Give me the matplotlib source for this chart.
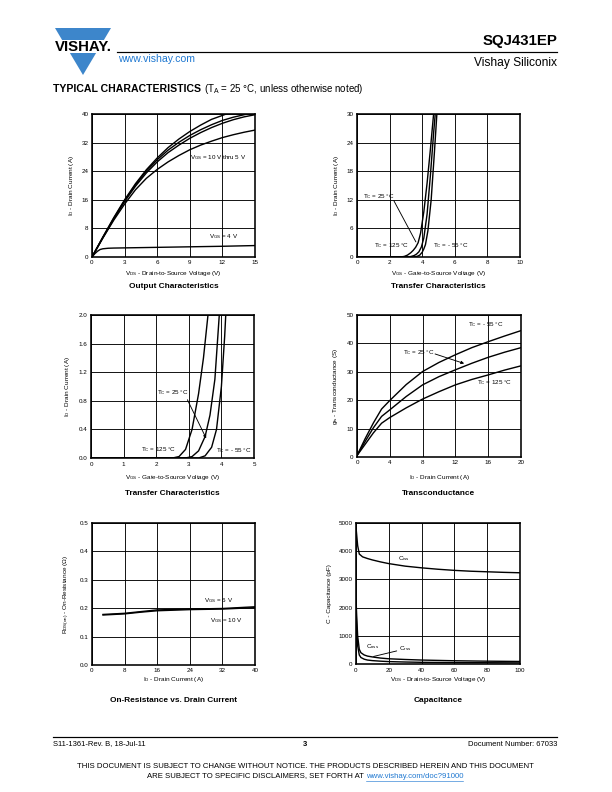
import matplotlib
matplotlib.use("Agg")
import matplotlib.pyplot as plt
from matplotlib.patches import Polygon
from matplotlib.lines import Line2D

plt.rcParams["font.family"] = ["Liberation Sans", "DejaVu Sans"]
plt.rcParams["mathtext.fontset"] = "custom"
plt.rcParams["mathtext.rm"] = "Liberation Sans"
plt.rcParams["mathtext.bf"] = "Liberation Sans:bold"

W, H = 612, 792
BLUE = "#3d86cb"
LINK = "#1f78d1"

# --- Output characteristics (VDS in V, ID in A) ---
out_vds_10 = [0, 1, 2, 3, 4, 5, 6, 7, 8, 9, 10, 11, 12, 12.8]
out_id_10 = [0, 5.6, 11.0, 16.0, 20.5, 24.4, 27.7, 30.6, 33.0, 35.1, 36.9, 38.5, 39.6, 40.5]
out_vds_8 = [0, 1, 2, 3, 4, 5, 6, 7, 8, 9, 10, 11, 12, 13, 14, 14.8]
out_id_8 = [0, 5.5, 10.8, 15.8, 20.2, 24.0, 27.2, 29.9, 32.1, 34.0, 35.6, 37.0, 38.2, 39.1, 39.8, 40.3]
out_vds_6 = [0, 1, 2, 3, 4, 5, 6, 7, 8, 9, 10, 11, 12, 13, 14, 15]
out_id_6 = [0, 5.4, 10.6, 15.5, 19.8, 23.5, 26.6, 29.2, 31.3, 33.2, 34.8, 36.2, 37.4, 38.4, 39.2, 39.8]
out_id_5 = [0, 5.3, 10.3, 14.8, 18.8, 22.0, 24.5, 26.6, 28.4, 30.0, 31.3, 32.4, 33.4, 34.2, 34.9, 35.5]
out_vds_4 = [0, 0.25, 0.5, 0.75, 1, 1.5, 2, 4, 6, 9, 12, 15]
out_id_4 = [0, 0.9, 1.6, 2.1, 2.3, 2.45, 2.5, 2.6, 2.7, 2.85, 3.0, 3.2]

# --- Transfer characteristics (VGS in V, ID in A) ---
tr_vgs_125 = [0, 2.5, 2.7, 2.9, 3.1, 3.3, 3.45, 3.6, 3.75, 3.9, 4.1, 4.3, 4.5, 4.7]
tr_id_125 = [0, 0, 0.02, 0.12, 0.4, 0.9, 1.4, 2.05, 3.0, 5.0, 9.5, 15.5, 22.5, 30]
tr_vgs_25 = [0, 2.9, 3.1, 3.3, 3.5, 3.65, 3.8, 3.95, 4.1, 4.3, 4.5, 4.7, 4.8]
tr_id_25 = [0, 0, 0.02, 0.1, 0.3, 0.6, 1.1, 2.1, 4.0, 9.0, 17, 26, 30]
tr_vgs_m55 = [0, 3.3, 3.5, 3.7, 3.85, 4.0, 4.1, 4.2, 4.35, 4.55, 4.75, 4.9]
tr_id_m55 = [0, 0, 0.03, 0.15, 0.4, 1.0, 1.7, 2.6, 5.5, 12, 22, 30]

# --- Transconductance (ID in A, gfs in S) ---
gfs_id = [0, 1, 2, 3, 4, 6, 8, 10, 12, 14, 16, 18, 20]
gfs_m55 = [0.5, 6.5, 12.0, 16.9, 19.9, 25.5, 30.1, 33.3, 36.0, 38.5, 40.6, 42.6, 44.5]
gfs_25 = [0.5, 5.5, 10.3, 14.3, 16.6, 21.3, 25.4, 28.3, 30.7, 33.0, 35.1, 36.9, 38.5]
gfs_125 = [0.5, 4.5, 8.5, 11.9, 13.9, 17.3, 20.4, 23.0, 25.4, 27.3, 28.9, 30.6, 32.1]

# --- On-resistance (ID in A, RDS(on) in ohm) ---
rds_id = [2.7, 8, 12, 16, 24, 32, 40]
rds_6v = [0.178, 0.182, 0.188, 0.194, 0.197, 0.199, 0.205]
rds_10v = [0.176, 0.180, 0.186, 0.191, 0.195, 0.197, 0.202]

# --- Capacitance (VDS in V, C in pF) ---
cap_vds_iss = [0, 1, 2, 4, 7, 10, 15, 20, 30, 40, 50, 60, 70, 80, 90, 100]
cap_iss = [4850, 4200, 3900, 3800, 3740, 3690, 3620, 3560, 3470, 3410, 3360, 3320, 3290, 3270, 3250, 3235]
cap_vds = [0, 0.5, 1, 2, 3, 5, 7, 10, 15, 20, 30, 40, 60, 80, 100]
cap_oss = [2300, 1600, 1000, 520, 400, 320, 280, 250, 210, 185, 160, 140, 115, 100, 90]
cap_rss = [2000, 1200, 650, 320, 230, 170, 140, 120, 100, 85, 70, 60, 50, 45, 40]

fig = plt.figure(figsize=(W / 72, H / 72), dpi=72)
fig.patch.set_facecolor("white")


def fy(y):
    return 1 - y / H


def ftext(x, y, s, **kw):
    return fig.text(x / W, fy(y), s, **kw)


def add_panel(box, xlim, xticks, ylim, yticks, yfmt="{:g}", title="", title_y=0,
              xlabel="", xlabel_y=0, ylabel="", ylabel_x=0):
    l, t, r, b = box
    ax = fig.add_axes([l / W, 1 - b / H, (r - l) / W, (b - t) / H])
    ax.set_xlim(*xlim)
    ax.set_ylim(*ylim)
    ax.set_xticks(xticks)
    ax.set_yticks(yticks)
    ax.set_yticklabels([yfmt.format(v) for v in yticks])
    ax.tick_params(length=0, pad=3.5, labelsize=6.2)
    ax.grid(True, color="black", linewidth=0.9)
    for sp in ax.spines.values():
        sp.set_linewidth(1.6)
    ftext((l + r) / 2, title_y, title, ha="center", va="center", fontsize=8.2, fontweight="bold")
    ftext((l + r) / 2, xlabel_y, xlabel, ha="center", va="center", fontsize=6.4)
    ftext(ylabel_x, (t + b) / 2, ylabel, ha="center", va="center", fontsize=6.4, rotation=90)
    return ax


LW = 1.4
ann = dict(fontsize=6.3, va="center", ha="left")
tc = r"T$_{\mathregular{C}}$"

# Output characteristics
ax = add_panel((92, 114, 255, 257), (0, 15), [0, 3, 6, 9, 12, 15], (0, 40), [0, 8, 16, 24, 32, 40],
               title="Output Characteristics", title_y=287,
               xlabel=r"V$_{\mathregular{DS}}$ - Drain-to-Source Voltage (V)", xlabel_y=273,
               ylabel=r"I$_{\mathregular{D}}$ - Drain Current (A)", ylabel_x=72)
ax.plot(out_vds_10, out_id_10, color="black", lw=LW)
ax.plot(out_vds_8, out_id_8, color="black", lw=LW)
ax.plot(out_vds_6, out_id_6, color="black", lw=LW)
ax.plot(out_vds_6, out_id_5, color="black", lw=LW)
ax.plot(out_vds_4, out_id_4, color="black", lw=LW)
ax.text(9.0, 27.9, r"V$_{\mathregular{GS}}$ = 10 V thru 5 V", **ann)
ax.text(10.8, 5.8, r"V$_{\mathregular{GS}}$ = 4 V", **ann)

# Transfer characteristics (full scale)
ax = add_panel((357, 114, 520, 257), (0, 10), [0, 2, 4, 6, 8, 10], (0, 30), [0, 6, 12, 18, 24, 30],
               title="Transfer Characteristics", title_y=287,
               xlabel=r"V$_{\mathregular{GS}}$ - Gate-to-Source Voltage (V)", xlabel_y=273,
               ylabel=r"I$_{\mathregular{D}}$ - Drain Current (A)", ylabel_x=336)
for v, i in [(tr_vgs_125, tr_id_125), (tr_vgs_25, tr_id_25), (tr_vgs_m55, tr_id_m55)]:
    ax.plot(v, i, color="black", lw=LW)
ax.text(0.35, 12.65, tc + " = 25 °C", **ann)
ax.annotate("", xy=(3.67, 2.8), xytext=(2.2, 12.2),
            arrowprops=dict(arrowstyle="-", color="black", lw=0.9))
ax.text(1.06, 2.3, tc + " = 125 °C", **ann)
ax.text(4.64, 2.3, tc + " = - 55 °C", **ann)

# Transfer characteristics (low current)
ax = add_panel((91, 315, 254, 458), (0, 5), [0, 1, 2, 3, 4, 5], (0, 2.0), [0, 0.4, 0.8, 1.2, 1.6, 2.0],
               yfmt="{:.1f}", title="Transfer Characteristics", title_y=493,
               xlabel=r"V$_{\mathregular{GS}}$ - Gate-to-Source Voltage (V)", xlabel_y=477,
               ylabel=r"I$_{\mathregular{D}}$ - Drain Current (A)", ylabel_x=67)
for v, i in [(tr_vgs_125, tr_id_125), (tr_vgs_25, tr_id_25), (tr_vgs_m55, tr_id_m55)]:
    ax.plot(v, i, color="black", lw=LW)
ax.text(2.01, 0.916, tc + " = 25 °C", **ann)
ax.annotate("", xy=(3.56, 0.25), xytext=(2.93, 0.84),
            arrowprops=dict(arrowstyle="-|>", color="black", lw=0.9, mutation_scale=6))
ax.text(1.53, 0.117, tc + " = 125 °C", **ann)
ax.text(3.83, 0.098, tc + " = - 55 °C", **ann)

# Transconductance
ax = add_panel((357, 315, 521, 457), (0, 20), [0, 4, 8, 12, 16, 20], (0, 50), [0, 10, 20, 30, 40, 50],
               title="Transconductance", title_y=493,
               xlabel=r"I$_{\mathregular{D}}$ - Drain Current (A)", xlabel_y=477,
               ylabel=r"g$_{\mathregular{fs}}$ - Transconductance (S)", ylabel_x=335)
for g in [gfs_m55, gfs_25, gfs_125]:
    ax.plot(gfs_id, g, color="black", lw=LW)
ax.text(13.56, 46.7, tc + " = - 55 °C", **ann)
ax.text(5.62, 36.9, tc + " = 25 °C", **ann)
ax.annotate("", xy=(13.3, 32.7), xytext=(9.29, 36.5),
            arrowprops=dict(arrowstyle="-|>", color="black", lw=0.9, mutation_scale=6))
ax.text(14.6, 26.2, tc + " = 125 °C", **ann)

# On-resistance vs drain current
ax = add_panel((92, 523, 255, 665), (0, 40), [0, 8, 16, 24, 32, 40], (0, 0.5), [0, 0.1, 0.2, 0.3, 0.4, 0.5],
               yfmt="{:.1f}", title="On-Resistance vs. Drain Current", title_y=700,
               xlabel=r"I$_{\mathregular{D}}$ - Drain Current (A)", xlabel_y=680,
               ylabel=r"R$_{\mathregular{DS(on)}}$ - On-Resistance (Ω)", ylabel_x=67)
ax.plot(rds_id, rds_6v, color="black", lw=LW)
ax.plot(rds_id, rds_10v, color="black", lw=LW)
ax.text(27.5, 0.228, r"V$_{\mathregular{GS}}$ = 6 V", **ann)
ax.text(28.9, 0.158, r"V$_{\mathregular{GS}}$ = 10 V", **ann)

# Capacitance
ax = add_panel((356, 523, 520, 664), (0, 100), [0, 20, 40, 60, 80, 100], (0, 5000),
               [0, 1000, 2000, 3000, 4000, 5000],
               title="Capacitance", title_y=700,
               xlabel=r"V$_{\mathregular{DS}}$ - Drain-to-Source Voltage (V)", xlabel_y=679,
               ylabel="C - Capacitance (pF)", ylabel_x=330)
ax.plot(cap_vds_iss, cap_iss, color="black", lw=LW)
ax.plot(cap_vds, cap_oss, color="black", lw=LW)
ax.plot(cap_vds, cap_rss, color="black", lw=LW)
ax.text(25.8, 3740, r"C$_{\mathregular{iss}}$", **ann)
ax.text(5.9, 620, r"C$_{\mathregular{oss}}$", **ann)
ax.text(26.2, 565, r"C$_{\mathregular{rss}}$", **ann)
ax.annotate("", xy=(9.5, 250), xytext=(26, 480),
            arrowprops=dict(arrowstyle="-", color="black", lw=0.9))

# Header: logo, rule, part number
fig.patches.append(Polygon([(55 / W, fy(28)), (111 / W, fy(28)), (103.9 / W, fy(40)), (62.1 / W, fy(40))],
                           closed=True, facecolor=BLUE, edgecolor="none", transform=fig.transFigure))
fig.patches.append(Polygon([(69.9 / W, fy(53)), (96.1 / W, fy(53)), (83 / W, fy(75))],
                           closed=True, facecolor=BLUE, edgecolor="none", transform=fig.transFigure))
ftext(83, 47, "VISHAY.", ha="center", va="center", fontsize=15, fontweight="bold")
fig.add_artist(Line2D([117 / W, 557 / W], [fy(52), fy(52)], color="black", lw=1.2))
ftext(557, 41, "SQJ431EP", ha="right", va="center", fontsize=15, fontweight="bold")
ftext(557, 63, "Vishay Siliconix", ha="right", va="center", fontsize=12)
ftext(118, 59, "www.vishay.com", ha="left", va="center", fontsize=10.5, color=LINK)

renderer = fig.canvas.get_renderer()
t = ftext(53, 89, "TYPICAL CHARACTERISTICS", ha="left", va="center", fontsize=10.5, fontweight="bold")
x1 = t.get_window_extent(renderer).x1
fig.text(x1 / W + 3 / W, fy(89), r"(T$_{\mathregular{A}}$ = 25 °C, unless otherwise noted)",
         ha="left", va="center", fontsize=9.8)

# Footer
fig.add_artist(Line2D([53 / W, 557 / W], [fy(737), fy(737)], color="black", lw=1.2))
ftext(53, 744, "S11-1361-Rev. B, 18-Jul-11", ha="left", va="center", fontsize=7.6)
ftext(305, 745, "3", ha="center", va="center", fontsize=7.6, fontweight="bold")
ftext(557, 744, "Document Number: 67033", ha="right", va="center", fontsize=7.6)
ftext(305, 767, "THIS DOCUMENT IS SUBJECT TO CHANGE WITHOUT NOTICE. THE PRODUCTS DESCRIBED HEREIN AND THIS DOCUMENT",
      ha="center", va="center", fontsize=7.7)
a = ftext(0, 776, "ARE SUBJECT TO SPECIFIC DISCLAIMERS, SET FORTH AT ", ha="left", va="center", fontsize=7.7)
b = ftext(0, 776, "www.vishay.com/doc?91000", ha="left", va="center", fontsize=7.7, color=LINK)
wa = a.get_window_extent(renderer).width
wb = b.get_window_extent(renderer).width
x0 = 305 - (wa + wb) / 2
a.set_x(x0 / W)
b.set_x((x0 + wa) / W)
fig.add_artist(Line2D([(x0 + wa) / W, (x0 + wa + wb) / W], [fy(780.8), fy(780.8)], color=LINK, lw=0.6))

fig.savefig("out.png", dpi=72)
